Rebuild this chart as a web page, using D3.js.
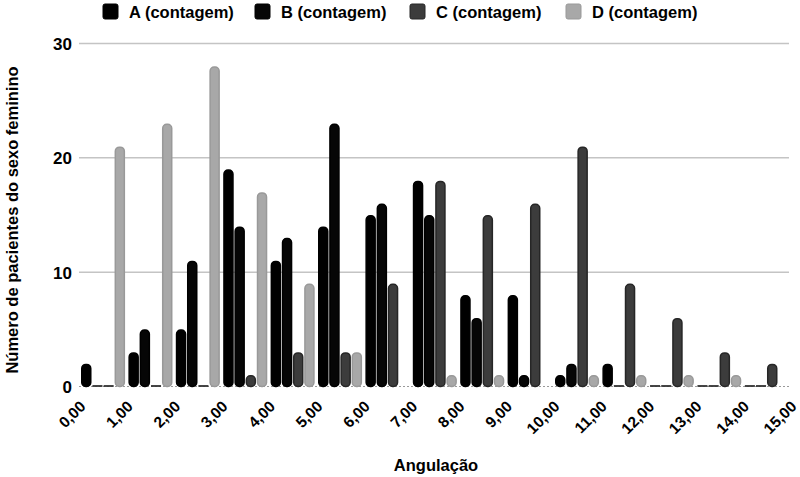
<!DOCTYPE html>
<html>
<head>
<meta charset="utf-8">
<script src="https://cdn.jsdelivr.net/npm/d3@7/dist/d3.min.js"></script>
<style>
  html, body { margin: 0; padding: 0; background: #fff; }
  svg text { font-family: "Liberation Sans", Arial, sans-serif; font-weight: bold; fill: #000; }
</style>
</head>
<body>
<div id="chart"></div>
<script>
// Data
const ticks = [0, 1, 2, 3, 4, 5, 6, 7, 8, 9, 10, 11, 12, 13, 14, 15];
const groups = [0, 1, 2, 3, 4, 5, 6, 7, 8, 9, 10, 11, 12, 13, 14];
const seriesNames = ["A (contagem)", "B (contagem)", "C (contagem)", "D (contagem)"];
const seriesA = [2, 3, 5, 19, 11, 14, 15, 18, 8, 8, 1, 2, 0, 0, 0];
const seriesB = [0, 5, 11, 14, 13, 23, 16, 15, 6, 1, 2, 0, 0, 0, 0];
const seriesC = [0, 0, 0, 1, 3, 3, 9, 18, 15, 16, 21, 9, 6, 3, 2];
const seriesD = [21, 23, 28, 17, 9, 3, 0, 1, 1, 0, 1, 1, 1, 1, 0];
const yTicks = [0, 10, 20, 30];

const fills = ["#000000", "#060606", "#3c3c3c", "#a8a8a8"];
const strokes = ["#000000", "#000000", "#262626", "#999999"];

const width = 800, height = 477;
const svg = d3.select("#chart").append("svg")
  .attr("width", width).attr("height", height);

const x = d3.scaleLinear().domain([0, 15]).range([81, 792]);
const y = d3.scaleLinear().domain([0, 30]).range([386.5, 43.5]);
const step = x(1) - x(0);
const sub = d3.scaleBand().domain(d3.range(4)).range([0, step * 0.93]).paddingInner(0.06);

// gridlines
svg.append("g")
  .selectAll("line")
  .data(yTicks.filter(d => d > 0))
  .join("line")
  .attr("x1", 79).attr("x2", 789)
  .attr("y1", d => y(d)).attr("y2", d => y(d))
  .attr("stroke", "#c4c4c4").attr("stroke-width", 1.5);

// baseline
svg.append("line")
  .attr("x1", 79).attr("x2", 789)
  .attr("y1", y(0)).attr("y2", y(0))
  .attr("stroke", "#9a9a9a").attr("stroke-width", 1.2)
  .attr("stroke-dasharray", "2,2");

// y axis labels
const yAxis = d3.axisLeft(y).tickValues(yTicks).tickSize(0).tickPadding(0);
const yg = svg.append("g").attr("transform", "translate(72,0)").call(yAxis);
yg.select(".domain").remove();
yg.selectAll("text").attr("font-size", 17).attr("dy", "0.35em");

// bars
const allSeries = [seriesA, seriesB, seriesC, seriesD];
const barData = [];
groups.forEach((g, i) => {
  allSeries.forEach((s, k) => barData.push({ g, k, v: s[i] }));
});

svg.append("g")
  .selectAll("rect")
  .data(barData)
  .join("rect")
  .attr("x", d => x(d.g) + sub(d.k) + 0.75)
  .attr("width", sub.bandwidth() - 1.5)
  .attr("y", d => d.v > 0 ? y(d.v) + 0.75 : y(0) - 1)
  .attr("height", d => d.v > 0 ? y(0) - y(d.v) - 0.75 : 1)
  .attr("rx", d => d.v > 0 ? 4 : 0)
  .attr("fill", d => fills[d.k])
  .attr("stroke", d => d.v > 0 ? strokes[d.k] : "#333")
  .attr("stroke-width", d => d.v > 0 ? 1.5 : 1)
  .attr("opacity", d => d.v > 0 ? 1 : (d.k === 3 ? 0 : 0.9));

// x axis labels
const xAxis = d3.axisBottom(x).tickValues(ticks).tickSize(0).tickPadding(0)
  .tickFormat(d => d3.format(".2f")(d).replace(".", ","));
const xg = svg.append("g").attr("transform", `translate(5,${y(0) + 21})`).call(xAxis);
xg.select(".domain").remove();
xg.selectAll("text")
  .attr("font-size", 15.5)
  .attr("text-anchor", "end")
  .attr("dy", 0)
  .attr("y", 0)
  .attr("transform", "rotate(-45)");

// axis titles
svg.append("text")
  .attr("x", 436).attr("y", 471)
  .attr("text-anchor", "middle")
  .attr("font-size", 16.5)
  .text("Angulação");

svg.append("text")
  .attr("transform", "translate(18,220) rotate(-90)")
  .attr("text-anchor", "middle")
  .attr("font-size", 16.5)
  .text("Número de pacientes do sexo feminino");

// legend
const legendX = [103, 255, 410, 566];
const lg = svg.append("g")
  .selectAll("g")
  .data(seriesNames)
  .join("g")
  .attr("transform", (d, i) => `translate(${legendX[i]},4)`);
lg.append("rect")
  .attr("width", 15).attr("height", 15).attr("rx", 2)
  .attr("fill", (d, i) => fills[i])
  .attr("stroke", (d, i) => strokes[i]);
lg.append("text")
  .attr("x", 26).attr("y", 8).attr("dy", "0.35em")
  .attr("font-size", 16.5)
  .text(d => d);
</script>
</body>
</html>
